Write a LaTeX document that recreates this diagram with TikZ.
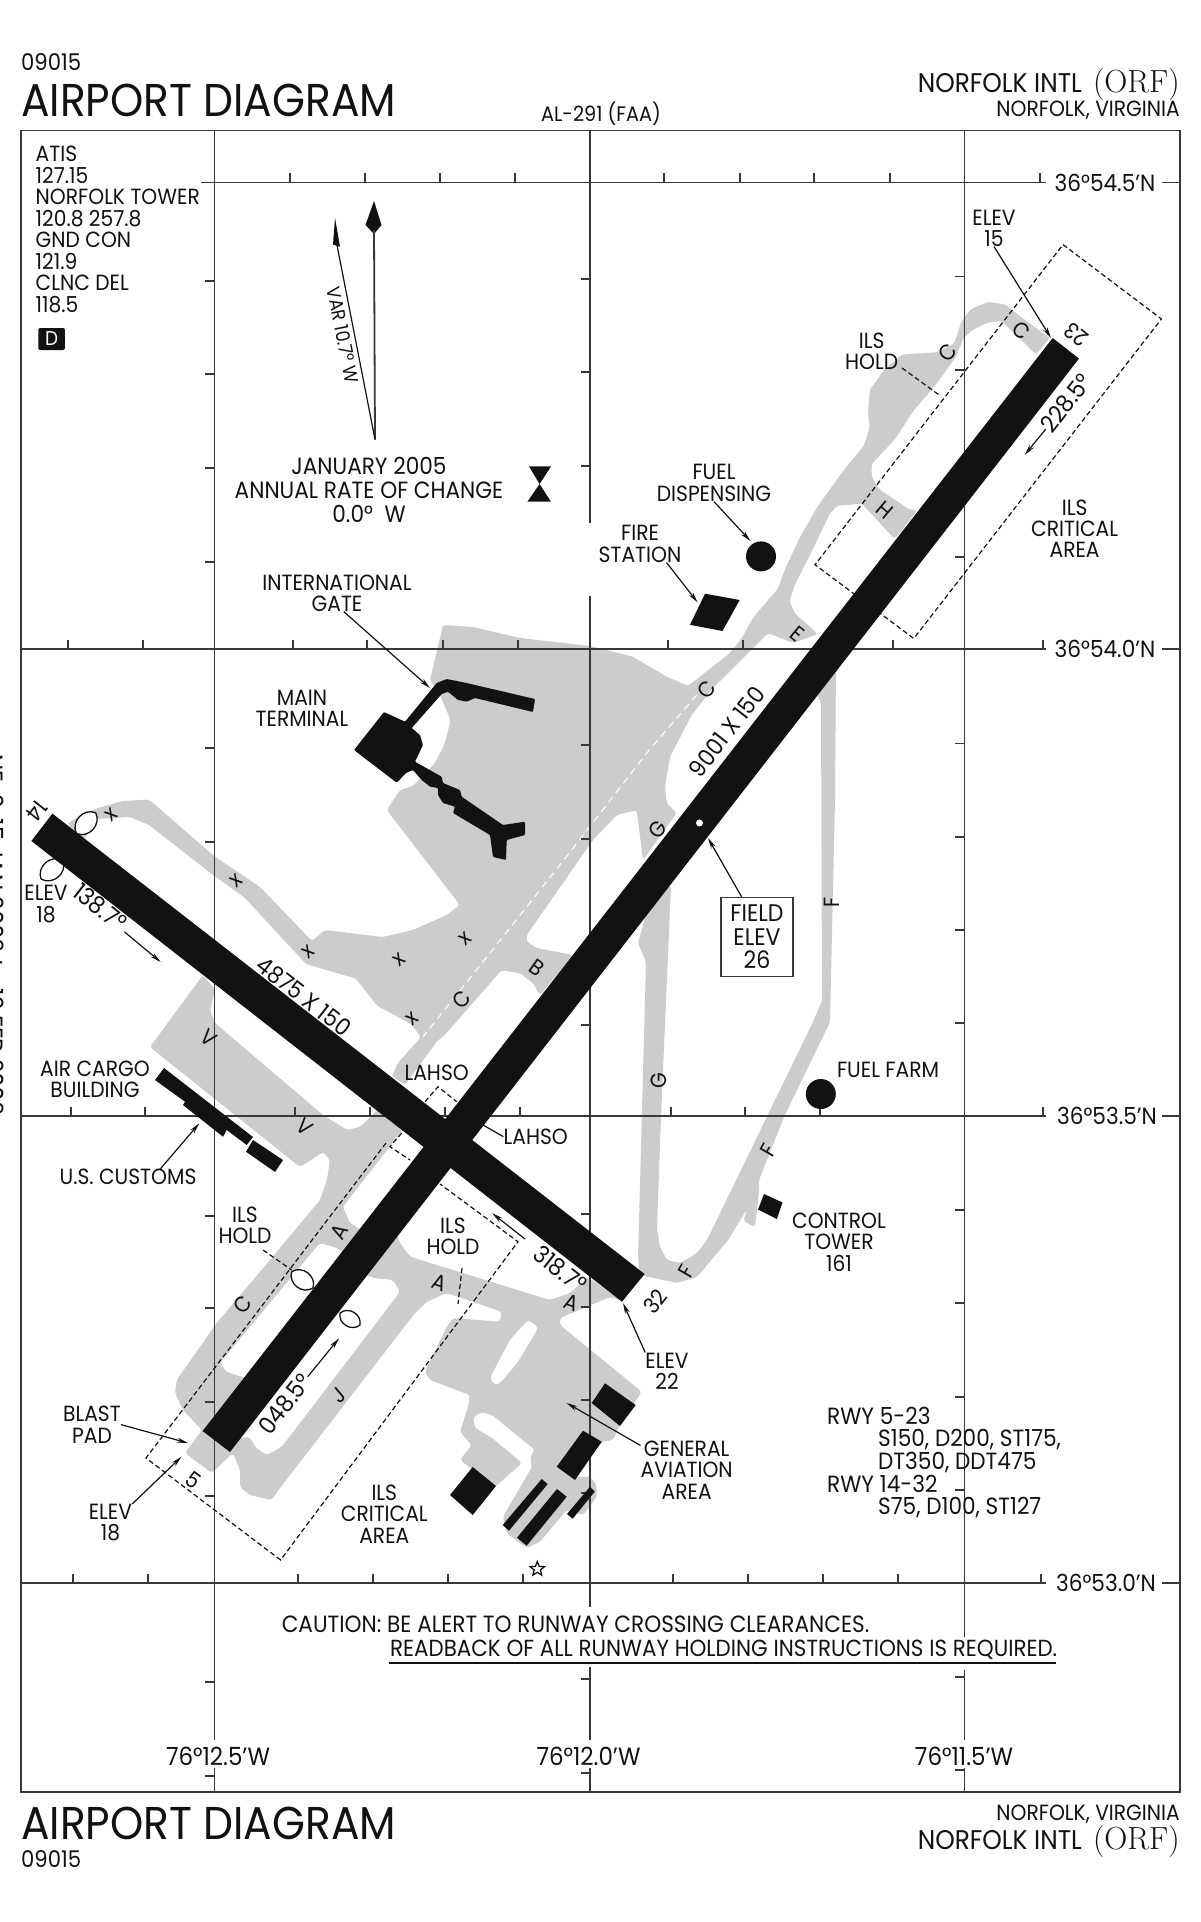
\documentclass[tikz,border=0pt]{standalone}
\usepackage{fontspec}
\usepackage{tikz}
\usetikzlibrary{arrows.meta}
\usetikzlibrary{shapes.geometric}
\newfontfamily\chartfont[FakeStretch=0.92]{Poppins}
\newcommand{\sized}[1]{\chartfont\fontsize{#1}{20.5}\selectfont}
\definecolor{apron}{gray}{0.80}
\definecolor{inkblk}{gray}{0.07}
\definecolor{rulegray}{gray}{0.22}
\tikzset{
  lbl/.style={font=\sized{22}, align=center, inner sep=0pt, text=inkblk},
  lblwide/.style={font=\sized{23.5}, align=center, inner sep=0pt, text=inkblk},
  lblbig/.style={font=\sized{24}, align=center, inner sep=0pt, text=inkblk},
  lblname/.style={font=\sized{27}, align=right, inner sep=0pt, text=inkblk},
  lblttl/.style={font=\sized{46}, inner sep=0pt, text=inkblk},
  twy/.style={font=\sized{22}, inner sep=0pt, text=inkblk},
  paved/.style={fill=apron, rounded corners=3pt},
  islet/.style={fill=white, rounded corners=3pt},
  solidblk/.style={fill=inkblk},
  gridln/.style={draw=rulegray, line width=1.8pt},
  leader/.style={draw=inkblk, line width=1.2pt},
  tipped/.style={leader, -{Stealth[length=11pt,width=5pt]}},
  holdln/.style={draw=inkblk, line width=1.2pt, dash pattern=on 5pt off 3pt},
  lens/.style={draw=inkblk, line width=1.3pt, fill=white}
}
\begin{document}
\begin{tikzpicture}[x=1pt, y=-1pt]

    \useasboundingbox (0,0) rectangle (1200,1922);
    \fill[white] (0,0) rectangle (1200,1922);

    \fill[paved] (1049.7,338) -- (1021,317) -- (1005.7,304.7) -- (988.4,301.8) -- (971,309) -- (961.7,321) -- (954,344) -- (936.8,352.4) -- (902.3,354.5) -- (885,369) -- (869.8,389.7) -- (868,414.6) -- (869.8,427) -- (864,445.7) -- (845,468.5) -- (818,505.8) -- (799,539) -- (783.7,572) -- (778,588.7) -- (753,617.7) -- (741.6,638.5) -- (730,653) -- (688,686) -- (666.7,676.7) -- (633,656.7) -- (590,646) -- (520,638) -- (473,627) -- (443,625) -- (430,680) -- (440,695) -- (450.7,720) -- (445,743) -- (435,763) -- (413,786) -- (400,790) -- (386.7,810) -- (460,905) -- (446.7,915) -- (413,930) -- (382.7,937) -- (325,930) -- (312,941) -- (260,887) -- (214,856) -- (149,799.5) -- (122.5,801) -- (96,808.6) -- (67,823) -- (84,840) -- (96,819) -- (130,817) -- (149,825) -- (210.5,873) -- (245,898) -- (306,964) -- (356,978.6) -- (377,1005.6) -- (411,1024) -- (421,1037) -- (398,1063) -- (392,1076) -- (405,1085) -- (438,1040) -- (443,1037) -- (501.7,970) -- (520,973.3) -- (533,983) -- (540,995) -- (573,955) -- (536.7,948) -- (526.7,941.7) -- (526.7,935) -- (593,840) -- (616.7,815) -- (636.7,810) -- (643,860) -- (676.7,813) -- (666.7,803) -- (665,786.7) -- (670,756.7) -- (691.7,715) -- (713,688) -- (768,633) -- (793,643) -- (818,634) -- (795,613.6) -- (789.4,601) -- (795,584.6) -- (814,547) -- (829.6,514) -- (837,505.8) -- (862,503.7) -- (883,526.5) -- (894.7,539) -- (917.6,510) -- (910,510) -- (879,489) -- (871.7,476.8) -- (871.7,464) -- (894.7,439.5) -- (913.8,410.4) -- (936.8,383.5) -- (956,356.5) -- (963.6,338) -- (973,329.6) -- (988.4,322.5) -- (1001.8,321) -- (1036,354.5) -- cycle;

    \fill[paved] (203,975) -- (150,1047) -- (300,1167) -- (323,1152) -- (330,1160) -- (327,1180) -- (320,1200) -- (270,1260) -- (216.7,1323) -- (176.7,1380) -- (175,1393) -- (183,1410) -- (202,1430) -- (185,1453) -- (211.7,1473) -- (233,1453) -- (240,1470) -- (240,1487) -- (250,1495) -- (271.7,1500) -- (280,1488) -- (415,1313) -- (426.7,1301.7) -- (446.7,1293) -- (501.7,1311.7) -- (500,1321.7) -- (453,1318) -- (446.7,1327) -- (425,1371.7) -- (430,1380) -- (470,1395) -- (468,1406.7) -- (460,1431.7) -- (471.7,1445) -- (460,1460) -- (495,1487) -- (522,1463) -- (492,1438) -- (475,1428) -- (473,1417) -- (482,1412) -- (492,1415) -- (535,1450) -- (530,1457) -- (532,1467) -- (503,1516.7) -- (506.7,1533) -- (526.7,1548) -- (540,1541.7) -- (566.7,1510) -- (583,1515) -- (596.7,1496.7) -- (596.7,1485) -- (590,1476.7) -- (575,1477) -- (601.7,1441.7) -- (613,1440) -- (620,1425) -- (641.7,1391.7) -- (560,1325) -- (560,1318) -- (610,1297) -- (622,1301) -- (588,1277) -- (570,1293) -- (550,1300) -- (410,1256.7) -- (398,1240) -- (402,1131) -- (380,1107) -- (360,1127) -- (347,1130) -- (323,1115) -- (215,1023) -- (210,1010) -- (215,990) -- cycle;

    \fill[paved] (638,943) -- (646,962) -- (638,1258) -- (640,1275) -- (677,1283) -- (697,1277) -- (728,1240) -- (747,1209) -- (743.5,1221) -- (755,1227) -- (759,1192) -- (759,1180) -- (784,1117) -- (830,1022) -- (835,800) -- (836,660) -- (815,690) -- (821,703) -- (822,1001) -- (812,1024) -- (707,1240) -- (697,1253) -- (680,1263) -- (667,1260) -- (660,1247) -- (657,1229) -- (661,1117) -- (671,885) -- (650,900) -- cycle;

    \fill[islet] (402,1131) -- (343,1207) -- (350,1223) -- (365,1232) -- (430,1152) -- cycle;
    \fill[islet] (336.7,1248) -- (320,1243) -- (220,1363) -- (226.7,1372) -- (246.7,1378) -- (252,1385) -- (352,1258) -- cycle;
    \fill[islet] (355,1270) -- (373,1278) -- (393,1280) -- (400,1291.7) -- (281.7,1446.7) -- (266.7,1455) -- (255,1446.7) -- (250,1436.7) -- (225,1440) -- cycle;
    \fill[islet] (490,1378) -- (510,1340) -- (528,1320) -- (538,1327) -- (533,1337) -- (517,1363) -- (500,1383) -- (495,1385) -- cycle;

    \draw[white, line width=1pt, dash pattern=on 7pt off 5pt] (696.7,695) -- (646.7,753) -- (571.7,850) -- (490,953) -- (423,1036.7);

    \draw[gridln] (21,130.5) rectangle (1180,1792);
    \draw[gridln] (214.5,130.5) -- (214.5,1740) (214.5,1768) -- (214.5,1792);
    \draw[gridln] (590,130.5) -- (590,523) (590,596) -- (590,1607) (590,1667) -- (590,1740) (590,1768) -- (590,1792);
    \draw[gridln] (964.5,130.5) -- (964.5,1637) (964.5,1670) -- (964.5,1740) (964.5,1768) -- (964.5,1792);
    \draw[gridln] (201,182.5) -- (1046,182.5) (1162,182.5) -- (1180,182.5);
    \draw[gridln] (21,649) -- (1046,649) (1162,649) -- (1180,649);
    \draw[gridln] (21,1116) -- (1046,1116) (1162,1116) -- (1180,1116);
    \draw[gridln] (21,1583) -- (1046,1583) (1162,1583) -- (1180,1583);

    \draw[gridln, line width=1.3pt] (290,182) -- +(0,-9) (365,182) -- +(0,-9) (440,182) -- +(0,-9) (515,182) -- +(0,-9) (664,182) -- +(0,-9) (740,182) -- +(0,-9) (814,182) -- +(0,-9) (890,182) -- +(0,-9) (1040,182) -- +(0,-9)
    (68,649) -- +(0,-9) (143,649) -- +(0,-9) (293,649) -- +(0,-9) (367,649) -- +(0,-9) (443,649) -- +(0,-9) (518,649) -- +(0,-9) (668,649) -- +(0,-9) (743,649) -- +(0,-9) (893,649) -- +(0,-9) (1043,649) -- +(0,-9)
    (71,1116) -- +(0,-9) (145,1116) -- +(0,-9) (295,1116) -- +(0,-9) (370,1116) -- +(0,-9) (445,1116) -- +(0,-9) (520,1116) -- +(0,-9) (671,1116) -- +(0,-9) (745,1116) -- +(0,-9) (820,1116) -- +(0,-9) (1043,1116) -- +(0,-9)
    (73,1583) -- +(0,-9) (148,1583) -- +(0,-9) (298,1583) -- +(0,-9) (373,1583) -- +(0,-9) (448,1583) -- +(0,-9) (523,1583) -- +(0,-9) (673,1583) -- +(0,-9) (748,1583) -- +(0,-9) (823,1583) -- +(0,-9) (898,1583) -- +(0,-9) (1041,1583) -- +(0,-9)
    (214,281) -- +(-9,0) (214,374) -- +(-9,0) (214,468) -- +(-9,0) (214,562) -- +(-9,0) (214,748) -- +(-9,0) (214,842) -- +(-9,0) (214,1216) -- +(-9,0) (214,1308) -- +(-9,0) (214,1402) -- +(-9,0) (214,1496) -- +(-9,0) (214,1682) -- +(-9,0) (214,1776) -- +(-9,0)
    (590,279) -- +(-9,0) (590,372) -- +(-9,0) (590,466) -- +(-9,0) (590,745) -- +(-9,0) (590,839) -- +(-9,0) (590,1025) -- +(-9,0) (590,1214) -- +(-9,0) (590,1307) -- +(-9,0) (590,1400) -- +(-9,0) (590,1493) -- +(-9,0) (590,1679) -- +(-9,0) (590,1773) -- +(-9,0)
    (964,276.5) -- +(-9,0) (964,370) -- +(-9,0) (964,557) -- +(-9,0) (964,743.5) -- +(-9,0) (964,837) -- +(-9,0) (964,930) -- +(-9,0) (964,1023) -- +(-9,0) (964,1210) -- +(-9,0) (964,1303) -- +(-9,0) (964,1397) -- +(-9,0) (964,1490) -- +(-9,0) (964,1677) -- +(-9,0) (964,1770) -- +(-9,0);

    \draw[holdln] (1063,244.6) -- (1161.4,319) -- (913.8,638.5) -- (815,564.7) -- cycle;
    \draw[holdln] (386,1143) -- (146,1458) -- (280.6,1560) -- (518,1241.7) -- (440,1184);
    \draw[holdln] (425,1101.7) -- (438,1086.7) -- (456.7,1101.7);
    \draw[holdln] (401.7,1133) -- (390,1146.7) -- (410,1160);

    \coordinate (lensa) at (291.7,1271.7);
    \coordinate (lensb) at (313,1288);
    \coordinate (lensc) at (340,1313);
    \coordinate (lensd) at (360,1325);
    \coordinate (lense) at (76.5,833.5);
    \coordinate (lensf) at (95.7,812.8);
    \coordinate (lensg) at (41,879);
    \coordinate (lensh) at (63,860.5);
    \draw[lens] (lensa) to[bend left=70, looseness=1.2] (lensb) to[bend left=70, looseness=1.2] (lensa);
    \draw[lens] (lensc) to[bend left=70, looseness=1.2] (lensd) to[bend left=70, looseness=1.2] (lensc);
    \draw[lens] (lense) to[bend left=70, looseness=1.2] (lensf) to[bend left=70, looseness=1.2] (lense);
    \draw[lens] (lensg) to[bend left=70, looseness=1.2] (lensh) to[bend left=70, looseness=1.2] (lensg);

    \fill[solidblk] (52.4,813.6) -- (644.6,1274) -- (622,1301.7) -- (31.4,841) -- cycle;
    \fill[solidblk] (1052.7,338) -- (1079,358.6) -- (230,1452) -- (202.6,1431) -- cycle;
    \fill[white] (699.5,823) circle (3.5);

    \fill[solidblk, rounded corners=1pt] (354,750) -- (384,712) -- (405,721.7) -- (436.7,683) -- (446.7,679) -- (466.7,683) -- (475,685) -- (535,699) -- (533,712) -- (475,698) -- (466.7,701.7) -- (458,700) -- (448,691.7) -- (441.7,694) -- (411.7,728) -- (420,735) -- (423,745) -- (415,761.7) -- (441.7,776.7) -- (443,783) -- (460,790) -- (461.7,796.7) -- (503,825) -- (525,821.7) -- (525,835) -- (506.7,840) -- (506,860) -- (493,857) -- (490,835) -- (453,813) -- (455,806.7) -- (443,803) -- (438,795) -- (438,788) -- (430,786.7) -- (421.7,780) -- (413,770) -- (406,773) -- (396.7,782.7) -- cycle;
    \fill[solidblk] (164,1068) -- (253,1137) -- (246.7,1145) -- (226.7,1130) -- (223,1136.7) -- (183,1105) -- (185,1101.7) -- (155,1080) -- cycle;
    \fill[solidblk] (253,1140) -- (283,1160) -- (275,1172) -- (246,1151.7) -- cycle;
    \fill[solidblk] (705,593.7) -- (739.7,600) -- (722.5,631) -- (690,624.8) -- cycle;
    \fill[solidblk] (761,556.4) circle (15);
    \fill[solidblk] (820.8,1094) circle (15);
    \fill[solidblk] (764,1194) -- (782.5,1202.5) -- (776.8,1219) -- (758,1209.6) -- cycle;
    \fill[solidblk] (605,1383.3) -- (635.7,1405) -- (620,1426) -- (591.7,1403) -- cycle;
    \fill[solidblk] (583,1430.7) -- (601.7,1441.7) -- (575,1480) -- (556.7,1466.7) -- cycle;
    \fill[solidblk] (472.7,1467) -- (496,1486) -- (472.7,1515) -- (450,1495) -- cycle;
    \fill[solidblk] (541.7,1479) -- (547.7,1484) -- (509,1530.7) -- (502.7,1525) -- cycle;
    \fill[solidblk] (557,1489) -- (566.7,1496.7) -- (526.7,1545.7) -- (517,1537.7) -- cycle;
    \fill[solidblk] (590,1486.7) -- (594.7,1491.7) -- (572.7,1518.7) -- (567,1514) -- cycle;
    \node[star, star points=5, star point ratio=2.3, draw=inkblk, fill=white, line width=1.3pt, minimum size=15pt, inner sep=0pt] (notam) at (537.3,1569) {};

    \fill[solidblk] (374,201) -- (381.5,225) -- (374,234) -- (365.5,225) -- cycle;
    \fill[solidblk] (335,217.7) -- (340,246.7) -- (333,244.6) -- cycle;
    \coordinate (varbase) at (375,439.5);
    \coordinate (truetop) at (374,230);
    \coordinate (magtop) at (336,240);
    \draw[leader, draw=rulegray, line width=1.8pt] (varbase) to (truetop);
    \draw[leader] (varbase) to (magtop);
    \fill[solidblk] (529,466.4) -- (551,466.4) -- (539.6,484) -- (551,501.7) -- (527.4,501.7) -- (539.6,484) -- cycle;

    \node[lbl, anchor=base, rotate=-90, font=\sized{25}] (edgetxt) at (-14,935) {NE-2, 15 JAN 2009 to 12 FEB 2009};

    \node[lbl, font=\sized{23}, anchor=west] (chartnotop) at (21,62) {09015};
    \node[lblttl, anchor=west] (ttltop) at (21,100.7) {AIRPORT DIAGRAM};
    \node[lbl, font=\sized{21}] (alno) at (601,114) {AL-291 (FAA)};
    \node[lblname, anchor=east] (nametop) at (1180,85) {NORFOLK INTL \,{\rmfamily\fontsize{32}{32}\selectfont(ORF)}};
    \node[lbl, anchor=east] (citytop) at (1180,110) {NORFOLK, VIRGINIA};

    \node[lbl, align=left, anchor=north west] (freqs) at (35.5,146) {ATIS\\[1pt]127.15\\[1pt]NORFOLK TOWER\\[1pt]120.8 257.8\\[1pt]GND CON\\[1pt]121.9\\[1pt]CLNC DEL\\[1pt]118.5};
    \node[fill=inkblk, rounded corners=2pt, text=white, font=\sized{20}, minimum width=26.7pt, minimum height=22pt, inner sep=0pt] (dbox) at (51.6,339) {D};

    \node[lbl, font=\sized{19}, rotate=-79] (varlbl) at (343,335) {VAR 10.7° W};
    \node[lblwide] (jan) at (369,466.4) {JANUARY 2005};
    \node[lblwide] (annual) at (369,490.5) {ANNUAL RATE OF CHANGE};
    \node[lblwide] (rate) at (369,514) {0.0°~ W};

    \node[lbl] (intlgate) at (337,593) {INTERNATIONAL\\[0.8pt]GATE};
    \node[lbl] (mainterm) at (302,708) {MAIN\\[0.8pt]TERMINAL};
    \node[lbl] (fuellbl) at (714,483) {FUEL\\[0.8pt]DISPENSING};
    \node[lbl] (firelbl) at (640,544) {FIRE\\[0.8pt]STATION};
    \node[lbl] (holdne) at (871.7,351.6) {ILS\\[0.8pt]HOLD};
    \node[lbl] (critne) at (1074.6,528.6) {ILS\\[0.8pt]CRITICAL\\[0.8pt]AREA};
    \node[lbl] (elevne) at (994,228) {ELEV\\[0.8pt]15};
    \node[lbl] (elevnw) at (46,904) {ELEV\\[0.8pt]18};
    \node[lbl] (cargo) at (95,1079) {AIR CARGO\\[0.8pt]BUILDING};
    \node[lbl] (customs) at (128,1177) {U.S. CUSTOMS};
    \node[lbl] (lahsotop) at (436.7,1072.7) {LAHSO};
    \node[lbl] (lahsoe) at (535.7,1136.7) {LAHSO};
    \node[lbl] (holdsw) at (245,1225) {ILS\\[0.8pt]HOLD};
    \node[lbl] (holdse) at (453,1236) {ILS\\[0.8pt]HOLD};
    \node[lbl] (elevse) at (667,1371) {ELEV\\[0.8pt]22};
    \node[lbl] (blast) at (92,1424.6) {BLAST\\[0.8pt]PAD};
    \node[lbl] (elevsw) at (110.4,1522.7) {ELEV\\[0.8pt]18};
    \node[lbl] (critsw) at (384.3,1514) {ILS\\[0.8pt]CRITICAL\\[0.8pt]AREA};
    \node[lbl] (galbl) at (686.7,1470) {GENERAL\\[0.8pt]AVIATION\\[0.8pt]AREA};
    \node[lbl] (farm) at (888,1069.8) {FUEL FARM};
    \node[lbl] (tower) at (839,1242) {CONTROL\\[0.8pt]TOWER\\[0.8pt]161};
    \node[lblwide, align=left, anchor=north west] (rwydata) at (827,1407) {RWY 5-23\\[1.3pt]\hspace{51pt}S150, D200, ST175,\\[1.3pt]\hspace{51pt}DT350, DDT475\\[1.3pt]RWY 14-32\\[1.3pt]\hspace{51pt}S75, D100, ST127};

    \node[lblbig, draw=rulegray, line width=1.5pt, minimum width=72pt, minimum height=79pt] (fieldbox) at (757,937) {FIELD\\[3pt]ELEV\\[3pt]26};

    \node[lbl] (num23) at (1076.5,335) [rotate=142] {23};
    \node[lbl] (num5) at (193.3,1480) [rotate=-38] {5};
    \node[lbl] (num14) at (37,810.7) [rotate=-128] {14};
    \node[lbl] (num32) at (655,1301.7) [rotate=52] {32};
    \node[lblwide, font=\sized{24}] (hdg138) at (100,907) [rotate=-38] {138.7°};
    \node[lblwide, font=\sized{24}] (hdg228) at (1066,403) [rotate=52] {228.5°};
    \node[lblwide, font=\sized{24}] (hdg318) at (560,1269) [rotate=-38] {318.7°};
    \node[lblwide, font=\sized{24}] (hdg048) at (285,1404) [rotate=52] {048.5°};
    \node[lblwide] (dim14) at (304,996.5) [rotate=-38] {4875 X 150};
    \node[lblwide] (dim5) at (726.7,731.7) [rotate=52] {9001 X 150};

    \node[twy] (twyc1) at (1021,331) [rotate=-40] {C};
    \node[twy] (twyc2) at (947.5,352.4) [rotate=50] {C};
    \node[twy] (twyh) at (885,510) [rotate=-40] {H};
    \node[twy] (twye) at (797,634) [rotate=-40] {E};
    \node[twy] (twyc3) at (706.4,689.7) [rotate=50] {C};
    \node[twy] (twyg1) at (657.4,830) [rotate=50] {G};
    \node[twy] (twyg2) at (658.5,1081) [rotate=90] {G};
    \node[twy] (twyf1) at (831.5,902) [rotate=90] {F};
    \node[twy] (twyf2) at (768.4,1150) [rotate=60] {F};
    \node[twy] (twyf3) at (686,1271.7) [rotate=60] {F};
    \node[twy] (twyb) at (536.7,968) [rotate=-35] {B};
    \node[twy] (twyc4) at (461.7,1000) [rotate=50] {C};
    \node[twy] (twyv1) at (208.3,1038) [rotate=-40] {V};
    \node[twy] (twyv2) at (305,1126.7) [rotate=-40] {V};
    \node[twy] (twya1) at (339,1231.7) [rotate=60] {A};
    \node[twy] (twya2) at (440,1283) [rotate=-20] {A};
    \node[twy] (twya3) at (571.7,1303) [rotate=-20] {A};
    \node[twy] (twyc5) at (243,1305) [rotate=50] {C};
    \node[twy] (twyj) at (338.3,1395) [rotate=40] {J};

    \node[twy, rotate=40] (xa) at (111,815) {x};
    \node[twy, rotate=40] (xb) at (236,881) {x};
    \node[twy, rotate=40] (xc) at (308,952) {x};
    \node[twy, rotate=40] (xd) at (399,960) {x};
    \node[twy, rotate=40] (xe) at (465,939) {x};
    \node[twy, rotate=40] (xf) at (412,1019) {x};

    \coordinate (tip15) at (1051,338);
    \coordinate (tipfuel) at (750.4,541);
    \coordinate (tipfire) at (697.6,602.4);
    \coordinate (tipintl) at (430,688);
    \coordinate (tipfield) at (708,838);
    \coordinate (tipcust) at (199.3,1123.3);
    \coordinate (tip22) at (623,1303);
    \coordinate (tipga) at (566.7,1403);
    \coordinate (tipblast) at (188,1443);
    \coordinate (tip18) at (181.5,1456.7);
    \coordinate (endlahso) at (483,1125);

    \draw[tipped] (elevne.south) to (tip15);
    \draw[tipped] (fuellbl.south) to (tipfuel);
    \draw[tipped] (firelbl.-35) to (tipfire);
    \draw[tipped] (intlgate.-70) to (tipintl);
    \draw[tipped] (fieldbox.111) to (tipfield);
    \draw[tipped] (customs.14) to (tipcust);
    \draw[tipped] (elevse.north west) to (tip22);
    \draw[tipped] (galbl.152) to (tipga);
    \draw[tipped] (blast.east) to (tipblast);
    \draw[tipped] (elevsw.north east) to (tip18);
    \draw[leader] (lahsoe.west) to (endlahso);

    \coordinate (holda) at (902,368);
    \coordinate (holdb) at (938.7,394.7);
    \coordinate (holdc) at (263,1250);
    \coordinate (holdd) at (291.7,1270);
    \coordinate (holde) at (462,1268);
    \coordinate (holdf) at (458,1304);
    \draw[holdln] (holda) to (holdb);
    \draw[holdln] (holdc) to (holdd);
    \draw[holdln] (holde) to (holdf);

    \coordinate (arra) at (124.4,931.8);
    \coordinate (arrb) at (160.7,962);
    \coordinate (arrc) at (1045.8,429);
    \coordinate (arrd) at (1024.8,454.8);
    \coordinate (arre) at (307.7,1376.7);
    \coordinate (arrf) at (339,1338.3);
    \coordinate (arrg) at (525,1239);
    \coordinate (arrh) at (492.3,1213.3);
    \draw[tipped] (arra) to (arrb);
    \draw[tipped] (arrc) to (arrd);
    \draw[tipped] (arre) to (arrf);
    \draw[tipped] (arrg) to (arrh);

    \node[lblwide, anchor=west] (caution) at (281.6,1624) {CAUTION: BE ALERT TO RUNWAY CROSSING CLEARANCES.};
    \node[lblwide, font=\sized{23.3}, anchor=west] (readback) at (390,1650) {READBACK OF ALL RUNWAY HOLDING INSTRUCTIONS IS REQUIRED.};
    \coordinate (ula) at (389,1662.7);
    \coordinate (ulb) at (1056,1662.7);
    \draw[leader, line width=2.2pt] (ula) to (ulb);

    \node[lblwide] (lat545) at (1105,182.5) {36°54.5’N};
    \node[lblwide] (lat540) at (1105,649) {36°54.0’N};
    \node[lblwide] (lat535) at (1107,1116) {36°53.5’N};
    \node[lblwide] (lat530) at (1106,1583) {36°53.0’N};
    \node[lblwide, font=\sized{25}] (lon125) at (218,1756.7) {76°12.5’W};
    \node[lblwide, font=\sized{25}] (lon120) at (588.5,1756.7) {76°12.0’W};
    \node[lblwide, font=\sized{25}] (lon115) at (964,1756.7) {76°11.5’W};

    \node[lblttl, anchor=west] (ttlbot) at (21,1823) {AIRPORT DIAGRAM};
    \node[lbl, font=\sized{23}, anchor=west] (chartnobot) at (21,1859) {09015};
    \node[lbl, anchor=east] (citybot) at (1180,1814) {NORFOLK, VIRGINIA};
    \node[lblname, anchor=east] (namebot) at (1180,1841) {NORFOLK INTL \,{\rmfamily\fontsize{32}{32}\selectfont(ORF)}};

\end{tikzpicture}
\end{document}
